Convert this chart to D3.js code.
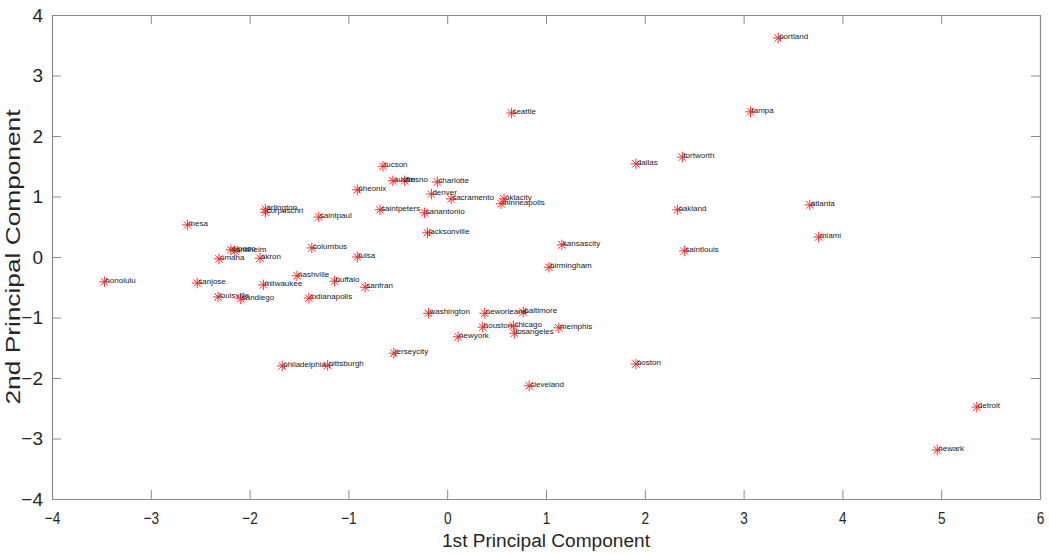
<!DOCTYPE html>
<html>
<head>
<meta charset="utf-8">
<script src="https://cdn.jsdelivr.net/npm/d3@7.9.0/dist/d3.min.js"></script>
<style>
  body { margin: 0; background: #fff; }
  svg { font-family: "Liberation Sans", Arial, sans-serif; }
</style>
</head>
<body>
<svg id="chart" width="1049" height="554"></svg>
<script>
// city names and their scores on the first two principal components
const cities = ['portland', 'tampa', 'atlanta', 'miami', 'detroit', 'newark', 'seattle',
  'dallas', 'fortworth', 'oklacity', 'minneapolis', 'oakland', 'kansascity', 'saintlouis',
  'birmingham', 'tucson', 'austin', 'fresno', 'charlotte', 'pheonix', 'denver', 'sacramento',
  'saintpeters', 'sanantonio', 'jacksonville', 'saintpaul', 'columbus', 'tulsa', 'arlington',
  'corpuschri', 'mesa', 'elpaso', 'anaheim', 'omaha', 'akron', 'sanjose', 'nashville',
  'buffalo', 'sanfran', 'milwaukee', 'louisville', 'sandiego', 'indianapolis', 'washington',
  'jerseycity', 'philadelphia', 'pittsburgh', 'honolulu', 'neworleans', 'baltimore',
  'houston', 'chicago', 'losangeles', 'memphis', 'newyork', 'cleveland', 'boston'];

const pc1 = [3.35, 3.07, 3.67, 3.76, 5.36, 4.96, 0.65,
  1.91, 2.38, 0.575, 0.545, 2.33, 1.16, 2.40,
  1.03, -0.65, -0.55, -0.43, -0.10, -0.91, -0.16, 0.04,
  -0.68, -0.23, -0.20, -1.30, -1.37, -0.91, -1.84,
  -1.84, -2.63, -2.19, -2.15, -2.31, -1.895, -2.53, -1.52,
  -1.14, -0.83, -1.86, -2.32, -2.09, -1.40, -0.19,
  -0.54, -1.67, -1.21, -3.47, 0.38, 0.77,
  0.36, 0.67, 0.68, 1.13, 0.11, 0.83, 1.91];

const pc2 = [3.62, 2.40, 0.86, 0.33, -2.48, -3.19, 2.38,
  1.54, 1.65, 0.96, 0.88, 0.78, 0.20, 0.10,
  -0.17, 1.50, 1.26, 1.26, 1.24, 1.11, 1.04, 0.96,
  0.78, 0.73, 0.40, 0.66, 0.15, 0.00, 0.79,
  0.74, 0.53, 0.12, 0.10, -0.03, -0.02, -0.43, -0.31,
  -0.40, -0.50, -0.46, -0.66, -0.69, -0.68, -0.93,
  -1.59, -1.80, -1.79, -0.41, -0.93, -0.91,
  -1.16, -1.14, -1.26, -1.17, -1.32, -2.13, -1.77];

const xTicks = [-4, -3, -2, -1, 0, 1, 2, 3, 4, 5, 6];
const yTicks = [-4, -3, -2, -1, 0, 1, 2, 3, 4];

const svg = d3.select('#chart');
const plotLeft = 52, plotRight = 1040, plotTop = 15, plotBottom = 499;

const x = d3.scaleLinear().domain([-4, 6]).range([plotLeft, plotRight]);
const y = d3.scaleLinear().domain([-4, 4]).range([plotBottom, plotTop]);

const axisColor = '#8a8a8a';
const textColor = '#262626';

function styleAxis(g) {
  g.selectAll('.domain').attr('stroke', axisColor).attr('stroke-width', 1.2);
  g.selectAll('.tick line').attr('stroke', axisColor);
  g.selectAll('.tick text').attr('fill', textColor);
}

// bottom and left axes carry labels, top and right only ticks
svg.append('g')
  .attr('transform', `translate(0,${plotBottom})`)
  .call(d3.axisBottom(x).tickValues(xTicks).tickSizeInner(-9).tickSizeOuter(0).tickPadding(13))
  .call(styleAxis)
  .call(g => g.selectAll('.tick text').attr('font-size', 17).attr('transform', 'scale(0.8,1)'));

svg.append('g')
  .attr('transform', `translate(0,${plotTop})`)
  .call(d3.axisTop(x).tickValues(xTicks).tickSizeInner(-9).tickSizeOuter(0).tickFormat(''))
  .call(styleAxis);

svg.append('g')
  .attr('transform', `translate(${plotLeft},0)`)
  .call(d3.axisLeft(y).tickValues(yTicks).tickSizeInner(-9).tickSizeOuter(0).tickPadding(9))
  .call(styleAxis)
  .call(g => g.selectAll('.tick text').attr('font-size', 19));

svg.append('g')
  .attr('transform', `translate(${plotRight},0)`)
  .call(d3.axisRight(y).tickValues(yTicks).tickSizeInner(-9).tickSizeOuter(0).tickFormat(''))
  .call(styleAxis);

// axis titles
svg.append('text')
  .attr('x', (plotLeft + plotRight) / 2)
  .attr('y', 547)
  .attr('text-anchor', 'middle')
  .attr('font-size', 18)
  .attr('fill', textColor)
  .attr('textLength', 208)
  .attr('lengthAdjust', 'spacingAndGlyphs')
  .text('1st Principal Component');

svg.append('text')
  .attr('transform', `translate(20,${(plotTop + plotBottom) / 2}) rotate(-90)`)
  .attr('text-anchor', 'middle')
  .attr('font-size', 20)
  .attr('fill', textColor)
  .attr('textLength', 295)
  .attr('lengthAdjust', 'spacingAndGlyphs')
  .text('2nd Principal Component');

// MATLAB style '*' marker: plus and cross together
const asterisk = {
  draw(ctx, size) {
    const r = Math.sqrt(size) / 2;
    const d = r * Math.SQRT1_2;
    ctx.moveTo(-r, 0); ctx.lineTo(r, 0);
    ctx.moveTo(0, -r); ctx.lineTo(0, r);
    ctx.moveTo(-d, -d); ctx.lineTo(d, d);
    ctx.moveTo(-d, d); ctx.lineTo(d, -d);
  }
};

const points = cities.map((name, i) => ({ name, a: pc1[i], b: pc2[i] }));

svg.append('g')
  .selectAll('path')
  .data(points)
  .join('path')
  .attr('transform', d => `translate(${x(d.a)},${y(d.b)})`)
  .attr('d', d3.symbol().type(asterisk).size(110))
  .attr('fill', 'none')
  .attr('stroke', '#ff1a1a')
  .attr('stroke-width', 0.9);

svg.append('g')
  .selectAll('text')
  .data(points)
  .join('text')
  .attr('x', d => x(d.a) + 1)
  .attr('y', d => y(d.b) - 1)
  .attr('dominant-baseline', 'middle')
  .attr('font-size', 8)
  .attr('fill', '#1a1a1a')
  .text(d => d.name);
</script>
</body>
</html>
